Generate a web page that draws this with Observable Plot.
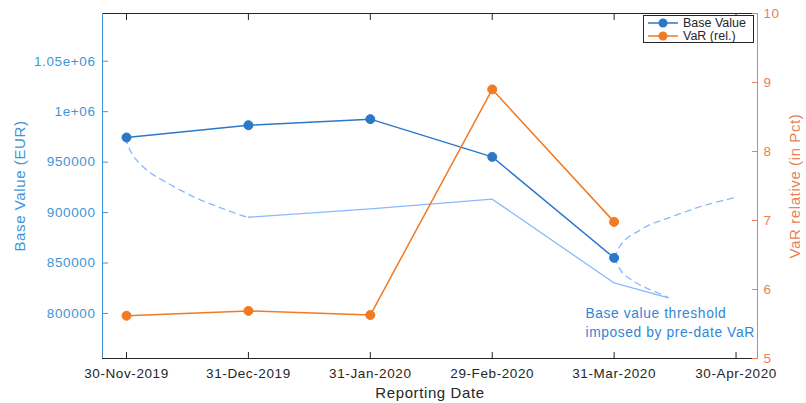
<!DOCTYPE html>
<html>
<head>
<meta charset="utf-8">
<script src="https://cdn.jsdelivr.net/npm/d3@7"></script>
<script src="https://cdn.jsdelivr.net/npm/@observablehq/plot@0.6"></script>
<style>
  html, body { margin: 0; padding: 0; background: #fff; }
  #wrap { position: relative; width: 806px; height: 403px; font-family: "Liberation Sans", Arial, sans-serif; }
  #legend { position: absolute; left: 643px; top: 15px; width: 111px; height: 28px; border: 1px solid #262626; background: #fff; box-sizing: border-box; }
  .lg-row { position: absolute; left: 0; height: 14px; display: flex; align-items: center; font-size: 12.5px; color: #262626; }
  .lg-row svg { margin-left: 4px; margin-right: 5px; }
</style>
</head>
<body>
<div id="wrap"></div>
<script>
// ---- data ----
const xIndex = [1, 2, 3, 4, 5, 6];
const xLabels = ["30-Nov-2019", "31-Dec-2019", "31-Jan-2020", "29-Feb-2020", "31-Mar-2020", "30-Apr-2020"];
const pointIndex = [1, 2, 3, 4, 5];
const baseValue = [974400, 986600, 992600, 955200, 855100];
const varRel = [5.62, 5.69, 5.63, 8.90, 6.98];

const thresholdX = [2, 3, 4, 5, 5.446];
const thresholdY = [895400, 903700, 913300, 830300, 815500];

const curve1X = [1.0, 1.008, 1.033, 1.074, 1.142, 1.224, 1.320, 1.443, 1.580, 1.716, 1.826, 1.935, 2.0];
const curve1Y = [974400, 967800, 960900, 953200, 944700, 937100, 930400, 922200, 914000, 907300, 902400, 897400, 895400];
const curveUpX = [5.0, 5.025, 5.052, 5.107, 5.189, 5.298, 5.435, 5.599, 5.763, 5.981];
const curveUpY = [855100, 861100, 867700, 874900, 880900, 888200, 894200, 901400, 908000, 914600];
const curveLoX = [5.0, 5.025, 5.066, 5.134, 5.216, 5.325, 5.435];
const curveLoY = [855100, 849600, 840600, 834000, 828000, 822100, 816500];

const leftTicks = [800000, 850000, 900000, 950000, 1000000, 1050000];
const rightTicks = [5, 6, 7, 8, 9, 10];

// ---- scales ----
const xDomain = [0.803, 6.176];
const yDomain = [755400, 1097300];
const rDomain = [5, 10];
const toLeft = v => yDomain[0] + (v - rDomain[0]) / (rDomain[1] - rDomain[0]) * (yDomain[1] - yDomain[0]);
const fromLeft = y => rDomain[0] + (y - yDomain[0]) / (yDomain[1] - yDomain[0]) * (rDomain[1] - rDomain[0]);

const BLUE = "#2a78c8";
const ORANGE = "#f27a22";
const LIGHT = "#8ab8ff";
const AX_BLUE = "#3f95d8";
const AX_ORANGE = "#eb8058";
const DARK = "#262626";

const pts = pointIndex.map((x, i) => ({x, base: baseValue[i], varL: toLeft(varRel[i])}));
const thr = thresholdX.map((x, i) => ({x, y: thresholdY[i]}));
const c1 = curve1X.map((x, i) => ({x, y: curve1Y[i]}));
const cu = curveUpX.map((x, i) => ({x, y: curveUpY[i]}));
const cl = curveLoX.map((x, i) => ({x, y: curveLoY[i]}));

const leftFmt = v => v >= 1e6 ? String(+(v / 1e6).toFixed(2)) + "e+06" : String(v);

const chart = Plot.plot({
  width: 806,
  height: 403,
  marginLeft: 102,
  marginRight: 49,
  marginTop: 13,
  marginBottom: 45,
  style: {fontFamily: "Liberation Sans, Arial, sans-serif", fontSize: "13.5px", letterSpacing: "0.6px", background: "#fff", overflow: "visible"},
  x: {type: "linear", domain: xDomain, axis: null},
  y: {type: "linear", domain: yDomain, axis: null},
  marks: [
    // frame lines
    Plot.ruleY([yDomain[1]], {stroke: DARK, strokeWidth: 1}),
    Plot.ruleY([yDomain[0]], {stroke: DARK, strokeWidth: 1}),
    Plot.ruleX([xDomain[0]], {stroke: AX_BLUE, strokeWidth: 1}),
    Plot.ruleX([xDomain[1]], {stroke: AX_ORANGE, strokeWidth: 1}),
    // x axis
    Plot.axisX({anchor: "bottom", ticks: xIndex, tickSize: -6, tickPadding: 16, tickFormat: d => xLabels[d - 1], stroke: DARK, fill: DARK, label: null, fontSize: 13.5}),
    Plot.axisX({anchor: "top", ticks: xIndex, tickSize: -6, tickFormat: () => "", stroke: DARK, label: null}),
    // left axis
    Plot.axisY({anchor: "left", ticks: leftTicks, tickSize: -6, tickPadding: 13, tickFormat: leftFmt, stroke: AX_BLUE, fill: AX_BLUE, label: null, fontSize: 13.5}),
    // right axis
    Plot.axisY({anchor: "right", ticks: rightTicks.map(toLeft), tickSize: -6, tickPadding: 12, tickFormat: d => String(Math.round(fromLeft(d))), stroke: AX_ORANGE, fill: AX_ORANGE, label: null, fontSize: 13.5}),
    // axis titles
    Plot.text(["Base Value (EUR)"], {frameAnchor: "left", textAnchor: "middle", lineAnchor: "middle", rotate: -90, dx: -82, fill: AX_BLUE, fontSize: 15}),
    Plot.text(["VaR relative (in Pct)"], {frameAnchor: "right", textAnchor: "middle", lineAnchor: "middle", rotate: -90, dx: 38, fill: AX_ORANGE, fontSize: 15}),
    Plot.text(["Reporting Date"], {frameAnchor: "bottom", textAnchor: "middle", lineAnchor: "middle", dy: 35, fill: DARK, fontSize: 15}),
    // threshold lines
    Plot.line(thr, {x: "x", y: "y", stroke: LIGHT, strokeWidth: 1.3}),
    Plot.line(c1, {x: "x", y: "y", stroke: LIGHT, strokeWidth: 1.3, strokeDasharray: "6,5", curve: "catmull-rom"}),
    Plot.line(cu, {x: "x", y: "y", stroke: LIGHT, strokeWidth: 1.3, strokeDasharray: "6,5", curve: "catmull-rom"}),
    Plot.line(cl, {x: "x", y: "y", stroke: LIGHT, strokeWidth: 1.3, strokeDasharray: "6,5", curve: "catmull-rom"}),
    // series
    Plot.line(pts, {x: "x", y: "base", stroke: BLUE, strokeWidth: 1.5}),
    Plot.dot(pts, {x: "x", y: "base", r: 4.5, fill: BLUE, stroke: BLUE, strokeWidth: 1}),
    Plot.line(pts, {x: "x", y: "varL", stroke: ORANGE, strokeWidth: 1.5}),
    Plot.dot(pts, {x: "x", y: "varL", r: 4.5, fill: ORANGE, stroke: ORANGE, strokeWidth: 1}),
    // annotation
    Plot.text(["Base value threshold\nimposed by pre-date VaR"], {x: 4.765, y: 808500, textAnchor: "start", lineAnchor: "top", lineHeight: 1.35, fill: "#2f86d6", fontSize: 13.8})
  ]
});

const wrap = document.getElementById("wrap");
wrap.appendChild(chart);

// legend
const legend = document.createElement("div");
legend.id = "legend";
function row(top, color, label) {
  const r = document.createElement("div");
  r.className = "lg-row";
  r.style.top = top + "px";
  r.innerHTML = `<svg width="30" height="12"><line x1="0" y1="6" x2="30" y2="6" stroke="${color}" stroke-width="1.5"/><circle cx="15" cy="6" r="4.5" fill="${color}"/></svg><span>${label}</span>`;
  return r;
}
legend.appendChild(row(0, BLUE, "Base Value"));
legend.appendChild(row(13, ORANGE, "VaR (rel.)"));
wrap.appendChild(legend);
</script>
</body>
</html>
